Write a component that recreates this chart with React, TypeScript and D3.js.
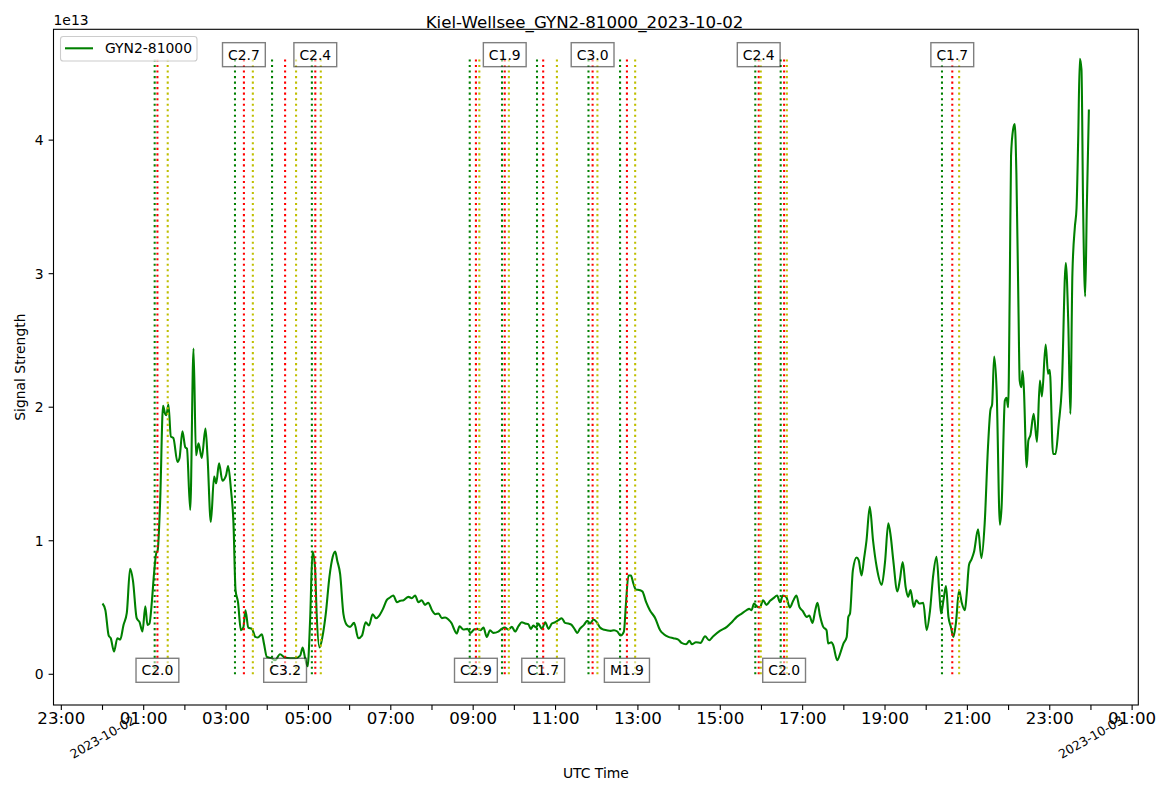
import React from "react";
import * as d3 from "d3";

const W = 1169;
const H = 792;
const PLOT = { left: 53.5, top: 29.3, right: 1138.3, bottom: 705 };
const FONT = "'DejaVu Sans', sans-serif";

// Signal samples: hours after 2023-10-02 00:00 UTC, values in units of 1e13
const sampleHours = [
  0.0, 0.07, 0.15, 0.2, 0.28, 0.36, 0.43, 0.51, 0.59, 0.67, 0.74, 0.83, 0.9, 0.97, 1.04, 1.09, 1.14, 1.2, 1.25, 1.3,
  1.34, 1.4, 1.47, 1.52, 1.55, 1.6, 1.66, 1.72, 1.82, 1.87, 1.94, 2.01, 2.05, 2.13, 2.21, 2.27, 2.33, 2.41, 2.5, 2.55,
  2.63, 2.71, 2.76, 2.83, 2.91, 3.0, 3.05, 3.12, 3.18, 3.23, 3.29, 3.36, 3.42, 3.47, 3.54, 3.63, 3.71, 3.77, 3.87, 3.92,
  3.99, 4.11, 4.19, 4.31, 4.43, 4.56, 4.68, 4.8, 4.86, 4.92, 4.98, 5.04, 5.1, 5.16, 5.2, 5.27, 5.34, 5.42, 5.51, 5.59,
  5.65, 5.7, 5.77, 5.85, 5.93, 6.01, 6.11, 6.21, 6.3, 6.39, 6.47, 6.56, 6.64, 6.72, 6.81, 6.9, 6.98, 7.06, 7.15, 7.23,
  7.31, 7.43, 7.51, 7.59, 7.67, 7.75, 7.83, 7.91, 8.0, 8.08, 8.16, 8.24, 8.32, 8.4, 8.48, 8.52, 8.6, 8.67, 8.76, 8.86,
  8.94, 9.02, 9.1, 9.18, 9.25, 9.33, 9.41, 9.49, 9.61, 9.69, 9.77, 9.85, 9.94, 10.02, 10.1, 10.18, 10.26, 10.34, 10.4, 10.46,
  10.53, 10.58, 10.67, 10.75, 10.83, 10.91, 10.99, 11.07, 11.15, 11.23, 11.31, 11.39, 11.47, 11.53, 11.59, 11.69, 11.77, 11.84, 11.92, 12.0,
  12.08, 12.16, 12.24, 12.34, 12.42, 12.5, 12.58, 12.66, 12.71, 12.77, 12.83, 12.89, 12.95, 13.05, 13.11, 13.2, 13.29, 13.42, 13.54, 13.63,
  13.74, 13.86, 13.98, 14.06, 14.17, 14.25, 14.31, 14.41, 14.52, 14.63, 14.73, 14.83, 14.99, 15.16, 15.28, 15.4, 15.52, 15.64, 15.7, 15.76,
  15.82, 15.88, 15.96, 16.04, 16.12, 16.21, 16.29, 16.38, 16.45, 16.52, 16.6, 16.69, 16.77, 16.85, 16.92, 17.0, 17.1, 17.16, 17.24, 17.3,
  17.36, 17.42, 17.5, 17.58, 17.62, 17.7, 17.74, 17.84, 17.91, 17.99, 18.07, 18.11, 18.15, 18.22, 18.31, 18.36, 18.43, 18.49, 18.55, 18.63,
  18.71, 18.8, 18.92, 19.0, 19.08, 19.14, 19.2, 19.3, 19.36, 19.43, 19.5, 19.56, 19.62, 19.7, 19.76, 19.83, 19.93, 20.01, 20.09, 20.17,
  20.25, 20.32, 20.36, 20.42, 20.48, 20.54, 20.6, 20.66, 20.72, 20.8, 20.86, 20.94, 20.98, 21.04, 21.1, 21.16, 21.26, 21.34, 21.42, 21.5,
  21.56, 21.6, 21.65, 21.71, 21.79, 21.83, 21.91, 21.95, 21.99, 22.03, 22.06, 22.11, 22.15, 22.19, 22.24, 22.27, 22.31, 22.34, 22.37, 22.44,
  22.48, 22.53, 22.61, 22.69, 22.76, 22.81, 22.9, 22.96, 23.0, 23.08, 23.14, 23.22, 23.29, 23.39, 23.45, 23.5, 23.55, 23.61, 23.65, 23.69,
  23.73, 23.77, 23.81, 23.86, 23.9, 23.95,
];

const signalE13 = [
  0.53, 0.48, 0.29, 0.27, 0.17, 0.27, 0.26, 0.37, 0.46, 0.79, 0.7, 0.42, 0.39, 0.32, 0.51, 0.37, 0.38, 0.55, 0.75, 0.9,
  0.93, 1.3, 2.01, 1.95, 1.94, 2.02, 1.78, 1.77, 1.59, 1.62, 1.82, 1.7, 1.69, 1.23, 2.44, 1.64, 1.73, 1.62, 1.84, 1.63,
  1.14, 1.48, 1.43, 1.58, 1.45, 1.49, 1.56, 1.38, 1.13, 0.63, 0.54, 0.33, 0.35, 0.48, 0.35, 0.34, 0.28, 0.275, 0.3, 0.23,
  0.13, 0.12, 0.105, 0.15, 0.125, 0.12, 0.12, 0.14, 0.2, 0.12, 0.06, 0.4, 0.92, 0.8, 0.45, 0.2, 0.28, 0.45, 0.73, 0.88,
  0.92, 0.85, 0.75, 0.45, 0.37, 0.355, 0.385, 0.27, 0.29, 0.39, 0.365, 0.45, 0.42, 0.44, 0.49, 0.555, 0.575, 0.59, 0.54, 0.55,
  0.555, 0.58, 0.57, 0.59, 0.54, 0.555, 0.52, 0.535, 0.48, 0.45, 0.455, 0.42, 0.425, 0.41, 0.38, 0.35, 0.305, 0.36, 0.335, 0.34,
  0.31, 0.335, 0.34, 0.33, 0.35, 0.28, 0.33, 0.31, 0.32, 0.34, 0.35, 0.335, 0.355, 0.32, 0.36, 0.39, 0.38, 0.375, 0.34, 0.365,
  0.35, 0.38, 0.34, 0.39, 0.34, 0.38, 0.39, 0.405, 0.42, 0.385, 0.38, 0.37, 0.335, 0.31, 0.34, 0.37, 0.4, 0.38, 0.41, 0.39,
  0.35, 0.335, 0.33, 0.325, 0.33, 0.32, 0.29, 0.32, 0.53, 0.74, 0.74, 0.68, 0.635, 0.63, 0.62, 0.54, 0.48, 0.42, 0.33, 0.3,
  0.28, 0.27, 0.26, 0.235, 0.225, 0.25, 0.225, 0.24, 0.235, 0.285, 0.255, 0.285, 0.325, 0.355, 0.39, 0.43, 0.455, 0.48, 0.49, 0.48,
  0.53, 0.51, 0.5, 0.555, 0.52, 0.55, 0.57, 0.59, 0.54, 0.59, 0.58, 0.5, 0.55, 0.59, 0.505, 0.475, 0.43, 0.44, 0.385, 0.47,
  0.535, 0.44, 0.355, 0.33, 0.23, 0.24, 0.22, 0.105, 0.155, 0.23, 0.28, 0.43, 0.455, 0.78, 0.875, 0.855, 0.74, 0.865, 1.0, 1.255,
  1.0, 0.8, 0.67, 0.84, 1.13, 1.03, 0.855, 0.62, 0.705, 0.84, 0.655, 0.58, 0.63, 0.505, 0.555, 0.53, 0.535, 0.33, 0.47, 0.74,
  0.88, 0.605, 0.455, 0.555, 0.66, 0.43, 0.355, 0.28, 0.38, 0.63, 0.54, 0.48, 0.59, 0.82, 0.86, 0.915, 1.085, 0.87, 1.13, 1.7,
  1.98, 2.02, 2.38, 2.13, 1.12, 1.25, 2.05, 2.07, 2.0, 2.93, 3.88, 4.08, 4.12, 3.75, 2.75, 2.2, 2.15, 2.27, 2.15, 1.55,
  1.75, 1.79, 1.95, 1.74, 2.2, 2.08, 2.47, 2.25, 2.28, 1.65, 1.65, 1.88, 2.13, 3.08, 2.63, 1.95, 3.0, 3.35, 3.49, 4.0,
  4.61, 4.53, 3.5, 2.83, 3.5, 4.23,
];

// Flare events (UTC, 2023-10-02)
const flareClasses = ["C2.0", "C2.7", "C3.2", "C2.4", "C2.9", "C1.9", "C1.7", "C3.0", "M1.9", "C2.4", "C2.0", "C1.7"];
const flareStart = ["01:16", "03:13", "04:07", "05:05", "08:55", "09:42", "10:33", "11:48", "12:34", "15:51", "16:28", "20:23"];
const flarePeak = ["01:20", "03:26", "04:26", "05:10", "09:04", "09:46", "10:42", "11:54", "12:44", "15:56", "16:33", "20:38"];
const flareEnd = ["01:35", "03:39", "04:42", "05:18", "09:09", "09:52", "11:02", "12:01", "12:56", "15:59", "16:37", "20:48"];

const yTicks = [0, 1e13, 2e13, 3e13, 4e13];
const yTickLabels = ["0", "1", "2", "3", "4"];

const titleText = "Kiel-Wellsee_GYN2-81000_2023-10-02";
const seriesName = "GYN2-81000";

const DAY0 = Date.UTC(2023, 9, 2);
const hourDate = (h: number) => new Date(DAY0 + h * 3600e3);
const hmDate = (s: string) => {
  const [a, b] = s.split(":").map(Number);
  return hourDate(a + b / 60);
};
const pad2 = (n: number) => String(n).padStart(2, "0");

const charW: Record<string, number> = { C: 0.698, M: 0.863, ".": 0.318 };
const estWidth = (s: string, fs: number) =>
  s.split("").reduce((a, c) => a + (charW[c] ?? 0.636), 0) * fs;

export default function App() {
  const x = d3
    .scaleUtc()
    .domain([hourDate(-1.19), hourDate(25.15)])
    .range([PLOT.left, PLOT.right]);
  const y = d3.scaleLinear().domain([-0.23e13, 4.83e13]).range([PLOT.bottom, PLOT.top]);

  const data = sampleHours.map((h, i) => ({ t: hourDate(h), v: signalE13[i] * 1e13 }));
  const vMax = d3.max(data, (d) => d.v) as number;
  const line = d3
    .line<{ t: Date; v: number }>()
    .x((d) => x(d.t))
    .y((d) => y(d.v))
    .curve(d3.curveMonotoneX);

  const hourTicks = x.ticks(d3.utcHour.every(1) as d3.TimeInterval);

  const dotted = { strokeWidth: 2.08, strokeDasharray: "2.08 3.44", fill: "none" } as const;
  const lineColors = ["#008000", "#ff0000", "#bfbf00"];

  return (
    <svg
      width={W}
      height={H}
      style={{ position: "fixed", left: 0, top: 0, background: "#fff" }}
      fontFamily={FONT}
    >
      <rect x={0} y={0} width={W} height={H} fill="#fff" />
      <defs>
        <clipPath id="plotclip">
          <rect x={PLOT.left} y={PLOT.top} width={PLOT.right - PLOT.left} height={PLOT.bottom - PLOT.top} />
        </clipPath>
      </defs>

      <g clipPath="url(#plotclip)">
        <path d={line(data) ?? ""} fill="none" stroke="#008000" strokeWidth={2.08} strokeLinejoin="round" />
        {flareClasses.map((_, i) =>
          [flareStart[i], flarePeak[i], flareEnd[i]].map((tt, k) => (
            <line
              key={`v${i}-${k}`}
              x1={x(hmDate(tt))}
              x2={x(hmDate(tt))}
              y1={y(0)}
              y2={y(vMax)}
              stroke={lineColors[k]}
              {...dotted}
            />
          ))
        )}
      </g>

      {flareClasses.map((c, i) => {
        const top = i % 2 === 1;
        const cx = x(hmDate(flarePeak[i]));
        const cy = y(top ? vMax : 0) - 4;
        const bw = estWidth(c, 13.9) + 11;
        return (
          <g key={`lab${i}`}>
            <rect
              x={cx - bw / 2}
              y={cy - 12}
              width={bw}
              height={24}
              fill="#fff"
              fillOpacity={0.5}
              stroke="#000"
              strokeOpacity={0.5}
              strokeWidth={1.4}
            />
            <text x={cx} y={cy} textAnchor="middle" dominantBaseline="central" fontSize={13.9} fill="#000">
              {c}
            </text>
          </g>
        );
      })}

      {/* axes frame */}
      <rect
        x={PLOT.left}
        y={PLOT.top}
        width={PLOT.right - PLOT.left}
        height={PLOT.bottom - PLOT.top}
        fill="none"
        stroke="#000"
        strokeWidth={1.1}
      />

      {/* x ticks */}
      {hourTicks.map((t, i) => {
        const px = x(t);
        const hr = t.getUTCHours();
        return (
          <g key={`xt${i}`}>
            <line x1={px} x2={px} y1={PLOT.bottom} y2={PLOT.bottom + 4.9} stroke="#000" strokeWidth={1.1} />
            {hr === 0 && (
              <text
                transform={`translate(${px},${PLOT.bottom + 32}) rotate(-30)`}
                textAnchor="middle"
                dominantBaseline="central"
                fontSize={12.5}
                fill="#000"
              >
                {d3.utcFormat("%Y-%m-%d")(t)}
              </text>
            )}
            {hr % 2 === 1 && (
              <text x={px} y={PLOT.bottom + 19} textAnchor="middle" fontSize={16.67} fill="#000">
                {`${pad2(hr)}:00`}
              </text>
            )}
          </g>
        );
      })}

      {/* y ticks */}
      {yTicks.map((v, i) => (
        <g key={`yt${i}`}>
          <line x1={PLOT.left} x2={PLOT.left - 4.9} y1={y(v)} y2={y(v)} stroke="#000" strokeWidth={1.1} />
          <text x={PLOT.left - 9.8} y={y(v)} textAnchor="end" dominantBaseline="central" fontSize={13.9} fill="#000">
            {yTickLabels[i]}
          </text>
        </g>
      ))}
      <text x={PLOT.left} y={25} fontSize={13.9} fill="#000">
        1e13
      </text>

      {/* labels */}
      <text x={W / 2} y={27.5} textAnchor="middle" fontSize={16.67} fill="#000">
        {titleText}
      </text>
      <text x={(PLOT.left + PLOT.right) / 2} y={778} textAnchor="middle" fontSize={13.9} fill="#000">
        UTC Time
      </text>
      <text
        transform={`translate(25,${(PLOT.top + PLOT.bottom) / 2}) rotate(-90)`}
        textAnchor="middle"
        fontSize={13.9}
        fill="#000"
      >
        Signal Strength
      </text>

      {/* legend */}
      <g>
        <rect x={60.5} y={36.5} width={136.5} height={24.5} rx={2.8} fill="#fff" fillOpacity={0.8} stroke="#cccccc" strokeWidth={1.1} />
        <line x1={65} x2={93} y1={48.3} y2={48.3} stroke="#008000" strokeWidth={2.08} />
        <text x={105} y={48.3} dominantBaseline="central" fontSize={13.9} fill="#000">
          {seriesName}
        </text>
      </g>
    </svg>
  );
}
